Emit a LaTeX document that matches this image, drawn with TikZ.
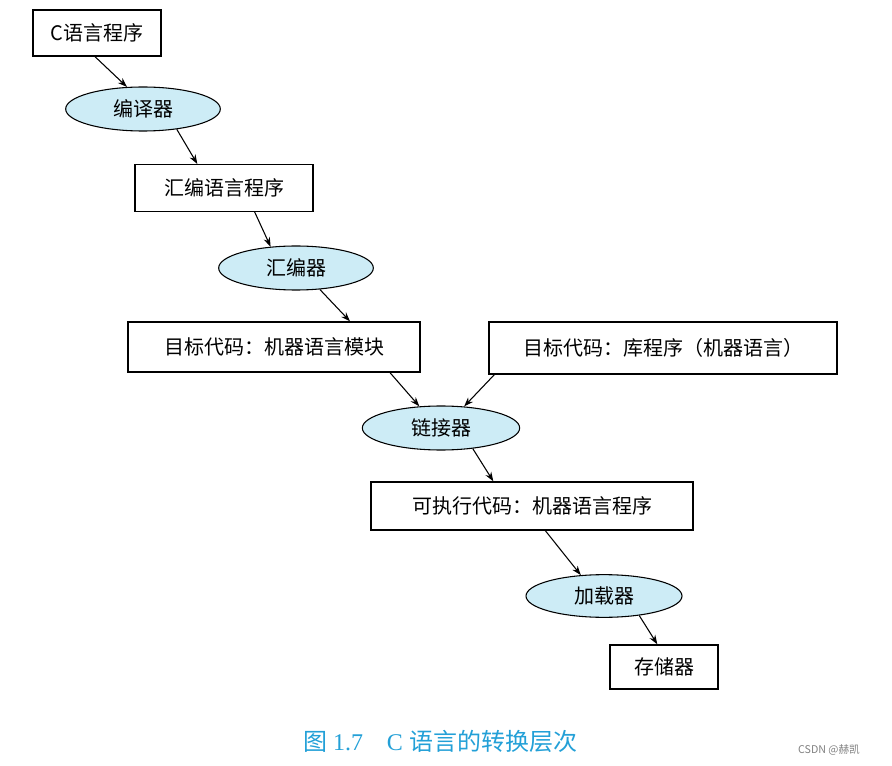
\documentclass[tikz,border=0pt]{standalone}
\usepackage{fontspec}
\setmainfont{Liberation Serif}
\newfontfamily\cjk{Noto Sans CJK SC}
\usetikzlibrary{shapes.geometric,arrows.meta}
\definecolor{ellfill}{RGB}{205,236,246}
\definecolor{capblue}{RGB}{35,160,215}
\tikzset{
 box/.style={draw,line width=1pt,rectangle,inner sep=0pt,font=\cjk\fontsize{15}{17}\selectfont},
 ell/.style={draw,line width=0.8pt,ellipse,fill=ellfill,inner sep=0pt,font=\cjk\fontsize{15}{17}\selectfont},
 arr/.style={-{Stealth[length=7pt,width=5pt]},line width=0.8pt}
}
\begin{document}
\begin{tikzpicture}[x=0.75pt,y=-0.75pt]
\useasboundingbox (0,0) rectangle (892,766);
\node[box,minimum width=96pt,minimum height=34.5pt] (c) at (97,33) {C语言程序};
\node[ell,minimum width=116pt,minimum height=33pt] (e1) at (143,109) {编译器};
\node[box,minimum width=133.5pt,minimum height=35pt] (b2) at (224,188) {汇编语言程序};
\node[ell,minimum width=116pt,minimum height=33pt] (e2) at (296,268) {汇编器};
\node[box,minimum width=219pt,minimum height=37.5pt] (b3) at (274,347) {目标代码：机器语言模块};
\node[box,minimum width=261pt,minimum height=39pt] (b4) at (663,348) {目标代码：库程序（机器语言）};
\node[ell,minimum width=118pt,minimum height=33pt] (e3) at (441,428) {链接器};
\node[box,minimum width=241.5pt,minimum height=36pt] (b5) at (532,506) {可执行代码：机器语言程序};
\node[ell,minimum width=117pt,minimum height=32pt] (e4) at (604,596) {加载器};
\node[box,minimum width=81pt,minimum height=33pt] (b6) at (664,667) {存储器};
\node[text=capblue,font=\fontsize{18}{20}\selectfont] (cap) at (440,741) {{\cjk 图} 1.7\quad C {\cjk 语言的转换层次}};
\node[text=gray,font=\cjk\fontsize{8}{9}\selectfont] (wm) at (829,750) {CSDN @赫凯};
\draw[arr] ([xshift=-1.5pt]c.south) -- (e1.126);
\draw[arr] (e1.-31) -- ([xshift=-20pt]b2.north);
\draw[arr] ([xshift=23pt]b2.south) -- (e2.140);
\draw[arr] (e2.-42) -- ([xshift=57pt]b3.north);
\draw[arr] ([xshift=87pt]b3.south) -- (e3.135);
\draw[arr] ([xshift=-126.5pt]b4.south) -- (e3.43);
\draw[arr] (e3.-33) -- ([xshift=-29pt]b5.north);
\draw[arr] ([xshift=10pt]b5.south) -- (e4.138);
\draw[arr] (e4.-29) -- ([xshift=-5pt]b6.north);
\end{tikzpicture}
\end{document}
